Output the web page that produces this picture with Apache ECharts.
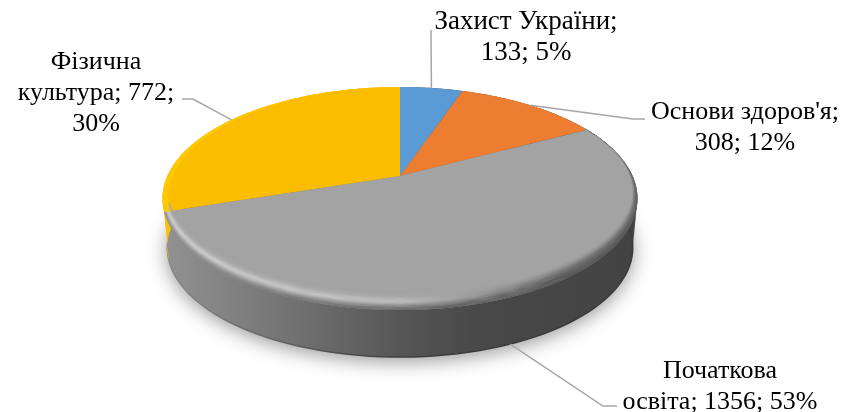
<!DOCTYPE html>
<html><head><meta charset="utf-8">
<style>html,body{margin:0;padding:0;background:#fff}#c{width:844px;height:412px}</style>
<script src="https://cdn.jsdelivr.net/npm/echarts@6/dist/echarts.min.js"></script>
</head><body><div id="c"></div>
<script>
const categories = ['Захист України', 'Основи здоров\'я', 'Початкова освіта', 'Фізична культура'];
const values = [133, 308, 1356, 772];
const percents = [5, 12, 53, 30];
const labelLines = [
  ['Захист України;', '133; 5%'],
  ['Основи здоров\'я;', '308; 12%'],
  ['Початкова', 'освіта; 1356; 53%'],
  ['Фізична', 'культура; 772;', '30%']
];
const sliceColors = ['#5b9bd5', '#ed7d31', '#a3a3a3', '#fbbd00'];
const labelCenters = [[526, 22], [745, 112], [720, 371], [96, 62]];
const labelFontSizes = [27, 26, 26, 26];
const leaderElbows = [
  [[431, 30]],
  [[633, 119], [645, 119]],
  [[603, 406], [617, 406]],
  [[193, 99], [182, 99]]
];

const CX = 400, CY = 176, K = 0.2018, A = 107, B = 232.6, DEPTH = 49.7, BOTTOM_SCALE = 0.98;
const LINE_H = 31, TAU = Math.PI * 2;
const total = values.reduce((s, v) => s + v, 0);
const starts = [];
values.reduce((s, v, i) => { starts[i] = s / total * TAU; return s + v; }, 0);
const endOf = i => starts[i] + values[i] / total * TAU;
const EXTREME = Math.acos(-K);

function rimTop(t) {
  const u = Math.sin(t), v = Math.cos(t), d = 1 + K * v;
  return [CX + B * u / d, CY - A * v / d];
}
function rimBottom(t) {
  const p = rimTop(t);
  return [CX + (p[0] - CX) * BOTTOM_SCALE, CY + DEPTH + (p[1] - CY) * BOTTOM_SCALE];
}
function rimInset(t, f, depth) {
  const p = rimTop(t), v = Math.cos(t), w = Math.pow((1 - v) / 2, 1.5);
  return [CX + (p[0] - CX) * (1 - 0.024 * f), p[1] - depth * f * w];
}
function arcPts(fn, a, b, n) {
  const pts = [];
  n = n || 90;
  for (let i = 0; i <= n; i++) pts.push(fn(a + (b - a) * i / n));
  return pts;
}
const grad = (stops) => new echarts.graphic.LinearGradient(160, 0, 640, 0,
  stops.map(s => ({ offset: (s[0] - 160) / 480, color: s[1] })), true);

const sourceRows = categories.map((c, i) => [values[i], c]);

function renderShadow(params) {
  if (params.dataIndex !== 0) return null;
  return { type: 'polygon', shape: { points: arcPts(rimBottom, 0, TAU, 180) },
    style: { fill: '#777', shadowBlur: 20, shadowColor: 'rgba(0,0,0,0.42)', shadowOffsetY: 4 } };
}
function renderWall(params) {
  const i = params.dataIndex, a = starts[i], b = endOf(i);
  const tail = i === 2 ? 0.17 : 0;
  const pts = arcPts(rimTop, a, b).concat(arcPts(rimBottom, b + tail, a));
  const fill = i === 3 ? '#fdc000' : grad([[165, '#929292'], [280, '#757575'], [400, '#565656'], [480, '#484848'], [640, '#434343']]);
  const children = [{ type: 'polygon', shape: { points: pts }, style: { fill } }];
  if (i === 2) {
    // tangent edge joining the widest points of the two rims on the right
    children.push({ type: 'polygon', style: { fill: '#434343' }, shape: { points: [
      rimTop(EXTREME), rimBottom(EXTREME), rimBottom(EXTREME + 0.3), rimTop(EXTREME + 0.3)] } });
    children.push({ type: 'polyline', shape: { points: arcPts(rimBottom, a, b + tail) },
      style: { fill: null, lineWidth: 1.5, stroke: grad([[165, '#8a8a8a'], [300, '#5c5c5c'], [400, '#3c3c3c'], [640, '#3a3a3a']]) } });
  }
  return { type: 'group', children };
}
function renderTop(params) {
  const i = params.dataIndex, a = starts[i], b = endOf(i);
  const pts = [[CX, CY]].concat(arcPts(rimTop, a, b));
  return { type: 'polygon', shape: { points: pts }, style: { fill: sliceColors[i] } };
}
const BEVEL = [
  ['#a4a4a4', '#a3a3a3', '#a3a3a3'],
  ['#a8a8a8', '#a6a6a6', '#9a9a9a'],
  ['#b6b6b6', '#adadad', '#8a8a8a'],
  ['#cccccc', '#bbbbbb', '#747474'],
  ['#d6d6d6', '#c4c4c4', '#646464'],
  ['#c6c6c6', '#a8a8a8', '#585858'],
  ['#a8a8a8', '#868686', '#4e4e4e'],
  ['#929292', '#6c6c6c', '#484848'],
  ['#8a8a8a', '#5e5e5e', '#444444']
];
const BEVEL_BANDS = 32;
function bevelColor(col, f) {
  return echarts.color.lerp(f, BEVEL.map(r => r[col]));
}
function renderBevel(params) {
  const i = params.dataIndex, a = starts[i], b = endOf(i);
  if (i === 0 || i === 1) return null;
  const children = [];
  const depth = 17;
  if (i === 2) {
    for (let k = 0; k < BEVEL_BANDS; k++) {
      const f0 = k / BEVEL_BANDS, f1 = (k + 1.2) / BEVEL_BANDS, fc = 1 - (k + 0.5) / BEVEL_BANDS;
      const pts = arcPts(t => rimInset(t, f0, depth), a, b).concat(arcPts(t => rimInset(t, f1, depth), b, a));
      const c0 = bevelColor(0, fc), c1 = bevelColor(1, fc), c2 = bevelColor(2, fc);
      children.push({ type: 'polygon', shape: { points: pts },
        style: { fill: grad([[165, c0], [400, c1], [560, c2], [640, c2]]) } });
    }
  } else {
    const pts = arcPts(t => rimInset(t, 1, 0), a, b).concat(arcPts(rimTop, b, a));
    children.push({ type: 'polygon', shape: { points: pts }, style: { fill: '#ffc800' } });
  }
  return { type: 'group', children };
}
function renderLabel(params) {
  const i = params.dataIndex;
  const mid = (starts[i] + endOf(i)) / 2;
  const anchor = i === 2 ? rimBottom(mid) : rimTop(mid);
  const children = [{ type: 'polyline', shape: { points: [anchor].concat(leaderElbows[i]) },
    style: { stroke: '#a6a6a6', lineWidth: 1.5, fill: null } }];
  const c = labelCenters[i];
  labelLines[i].forEach((line, j) => children.push({ type: 'text',
    style: { text: line, x: c[0], y: c[1] + j * LINE_H, align: 'center', verticalAlign: 'middle',
      fill: '#000', font: labelFontSizes[i] + 'px "Liberation Serif"' } }));
  return { type: 'group', children };
}
const chart = echarts.init(document.getElementById('c'), null, { renderer: 'canvas' });
const layer = (name, fn) => ({ type: 'custom', name, coordinateSystem: 'none', renderItem: fn,
  data: sourceRows, silent: true, animation: false, encode: { value: 0 } });
chart.setOption({
  animation: false, backgroundColor: '#fff',
  series: [layer('shadow', renderShadow), layer('walls', renderWall), layer('tops', renderTop),
           layer('bevel', renderBevel), layer('labels', renderLabel)]
});
</script></body></html>
